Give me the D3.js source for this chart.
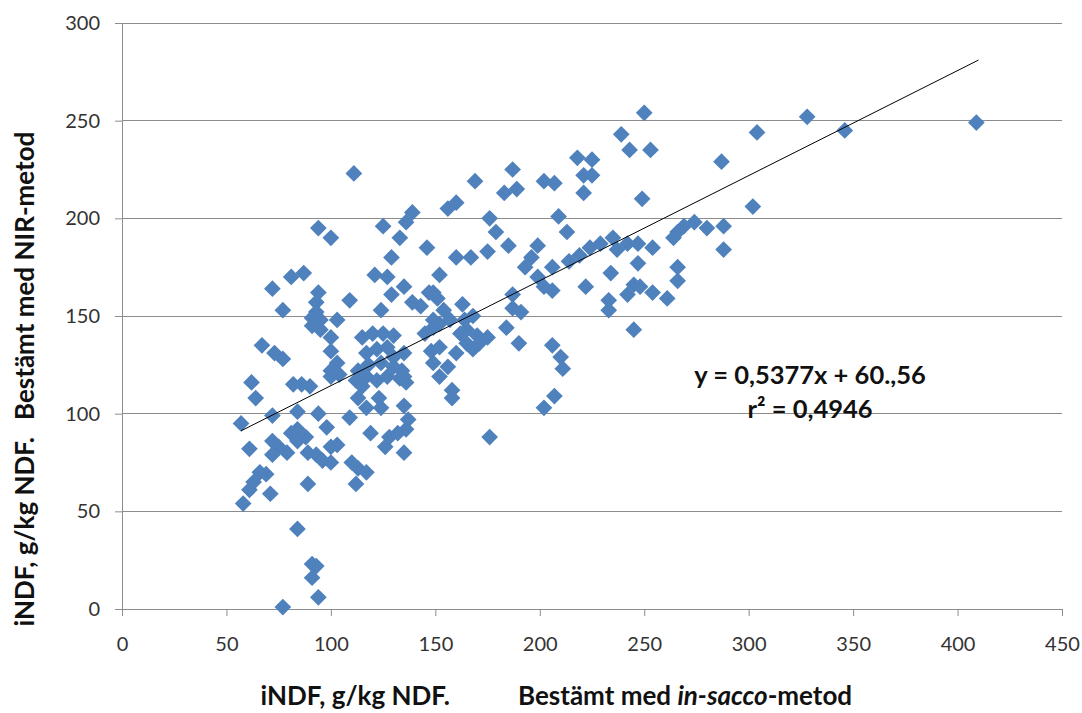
<!DOCTYPE html>
<html>
<head>
<meta charset="utf-8">
<script src="https://cdn.jsdelivr.net/npm/d3@7"></script>
<style>
  body { margin: 0; background: #fff; }
  svg { display: block; font-family: Lato, "Open Sans", sans-serif; }
</style>
</head>
<body>
<div id="chart"></div>
<script>
// iNDF bestämt med in-sacco-metod (x) and NIR-metod (y), g/kg NDF
var insacco = [
  57, 58, 62, 64, 61, 63, 61, 66, 69, 71, 67, 73, 77, 72, 77, 81, 87, 72, 72, 75,
  72, 79, 82, 86, 90, 84, 94, 98, 81, 84, 88, 84, 89, 93, 96, 100, 100, 103, 89, 84,
  91, 93, 91, 94, 77, 94, 100, 94, 93, 93, 91, 95, 103, 91, 95, 100, 100, 103, 100, 104,
  100, 109, 109, 111,
  110, 113, 117, 112, 119, 126, 128, 132, 135, 137, 136, 135, 117, 124, 123, 113, 115,
  115, 120, 125, 130, 117, 122, 127, 130, 113, 118, 124, 130, 134, 112, 117, 122, 127, 133, 136,
  135, 135, 125, 133, 136, 139, 129, 121, 127, 135, 129, 139, 124,
  156, 160, 169, 187, 183, 189, 202, 207, 176, 179, 209, 213, 146, 175, 185, 199, 160, 167, 196, 193,
  152, 199, 206, 214, 219, 224, 149, 202, 206, 222, 143, 147, 151, 163, 154, 187, 187, 191, 168, 164,
  149, 157, 218, 225, 221, 225, 221,
  184, 190, 175, 206, 210, 211, 207, 202, 176, 158, 158, 152, 149, 156, 165, 168, 160, 148, 152, 145,
  149, 152, 162, 165, 170, 171,
  250, 239, 243, 253, 304, 287, 249, 302, 288, 274, 269, 266, 264, 280, 235, 229, 242, 247, 237, 254,
  288, 247, 266, 266, 234, 245, 248, 242, 254, 261, 233, 233, 245, 328, 346, 409
];
var nir = [
  95, 54, 116, 108, 82, 65, 61, 70, 69, 59, 135, 131, 128, 164, 153, 170, 172, 99, 86, 83,
  79, 80, 115, 115, 114, 101, 100, 93, 90, 92, 88, 86, 80, 79, 76, 75, 83, 84, 64, 41,
  23, 22, 16, 6, 1, 195, 190, 162, 157, 152, 149, 148, 148, 145, 143, 139, 132, 126, 122, 120,
  119, 158, 98, 223,
  75, 72, 70, 64, 90, 83, 88, 90, 104, 97, 92, 80, 103, 103, 108, 108, 114,
  139, 141, 141, 140, 131, 133, 134, 129, 122, 125, 126, 124, 122, 117, 119, 117, 119, 118, 116,
  131, 119, 196, 190, 198, 203, 180, 171, 170, 165, 161, 157, 153,
  205, 208, 219, 225, 213, 215, 219, 218, 200, 193, 201, 193, 185, 183, 186, 186, 180, 180, 180, 175,
  171, 170, 175, 178, 181, 185, 162, 165, 163, 165, 155, 162, 159, 156, 153, 161, 154, 152, 150, 148,
  148, 148, 231, 230, 222, 222, 213,
  144, 136, 139, 135, 129, 123, 109, 103, 88, 112, 108, 119, 126, 124, 136, 133, 131, 132, 134, 141,
  144, 146, 141, 143, 140, 136,
  254, 243, 235, 235, 244, 229, 210, 206, 196, 198, 196, 193, 190, 195, 190, 187, 187, 187, 184, 185,
  184, 177, 175, 168, 172, 166, 165, 161, 162, 159, 158, 153, 143, 252, 245, 249
];

var xTicks = [0, 50, 100, 150, 200, 250, 300, 350, 400, 450];
var yTicks = [0, 50, 100, 150, 200, 250, 300];

// linear trend line (Excel): y = 0,5377x + 60,56 over the x range of the data
var trendSlope = 0.5377;
var trendIntercept = 60.56;
var trendRange = [57, 410];

var width = 1082, height = 713;
var margin = {top: 23, right: 20, bottom: 104, left: 122};

var svg = d3.select("#chart")
  .append("svg")
  .attr("width", width)
  .attr("height", height);

var x = d3.scaleLinear()
  .domain([0, 450])
  .range([margin.left, width - margin.right]);

var y = d3.scaleLinear()
  .domain([0, 300])
  .range([height - margin.bottom, margin.top]);

// horizontal gridlines
svg.append("g")
  .selectAll("line")
  .data(yTicks.slice(1))
  .enter()
  .append("line")
  .attr("x1", x(0))
  .attr("x2", x(450))
  .attr("y1", d => y(d))
  .attr("y2", d => y(d))
  .attr("stroke", "#8c8c8c")
  .attr("stroke-width", 1)
  .attr("shape-rendering", "crispEdges");

// y axis
var yAxis = svg.append("g")
  .attr("transform", "translate(" + x(0) + ",0)")
  .call(d3.axisLeft(y).tickValues(yTicks).tickSize(7).tickPadding(15).tickSizeOuter(0));
yAxis.select(".domain").attr("stroke", "#8c8c8c");
yAxis.selectAll(".tick line").attr("stroke", "#8c8c8c");
yAxis.selectAll("text")
  .attr("font-size", 20)
  .attr("fill", "#333")
  .attr("font-family", "Lato, sans-serif");

// x axis
var xAxis = svg.append("g")
  .attr("transform", "translate(0," + y(0) + ")")
  .call(d3.axisBottom(x).tickValues(xTicks).tickSize(7).tickPadding(21).tickSizeOuter(0));
xAxis.select(".domain").attr("stroke", "#8c8c8c");
xAxis.selectAll(".tick line").attr("stroke", "#8c8c8c");
xAxis.selectAll("text")
  .attr("font-size", 20)
  .attr("fill", "#333")
  .attr("font-family", "Lato, sans-serif");

// points
var diamond = d3.symbol().type(d3.symbolSquare).size(140);
svg.append("g")
  .selectAll("path")
  .data(insacco.map((v, i) => [v, nir[i]]))
  .enter()
  .append("path")
  .attr("d", diamond)
  .attr("transform", d => "translate(" + x(d[0]) + "," + y(d[1]) + ") rotate(45)")
  .attr("fill", "#4f81bd");

// trend line
var line = d3.line()
  .x(d => x(d))
  .y(d => y(trendSlope * d + trendIntercept));
svg.append("path")
  .datum(trendRange)
  .attr("d", line)
  .attr("fill", "none")
  .attr("stroke", "#000")
  .attr("stroke-width", 1);

// equation
var eq = svg.append("g")
  .attr("font-weight", "bold")
  .attr("font-size", 25.5)
  .attr("fill", "#111")
  .attr("text-anchor", "middle");
eq.append("text").attr("x", 810).attr("y", 384).text("y = 0,5377x + 60.,56");
eq.append("text").attr("x", 810).attr("y", 418).text("r² = 0,4946");

// axis titles, two parts each with a wide gap between them
var titles = svg.append("g")
  .attr("font-weight", "bold")
  .attr("font-size", 26)
  .attr("fill", "#111");

titles.append("text")
  .attr("x", 450).attr("y", 705)
  .attr("text-anchor", "end")
  .text("iNDF, g/kg NDF.");
var xTitle2 = titles.append("text")
  .attr("x", 518).attr("y", 705)
  .attr("text-anchor", "start");
xTitle2.append("tspan").text("Bestämt med ");
xTitle2.append("tspan").attr("font-style", "italic").text("in-sacco");
xTitle2.append("tspan").text("-metod");

titles.append("text")
  .attr("transform", "translate(34,437) rotate(-90)")
  .attr("text-anchor", "end")
  .text("iNDF, g/kg NDF.");
titles.append("text")
  .attr("transform", "translate(34,420) rotate(-90)")
  .attr("text-anchor", "start")
  .text("Bestämt med NIR-metod");
</script>
</body>
</html>
